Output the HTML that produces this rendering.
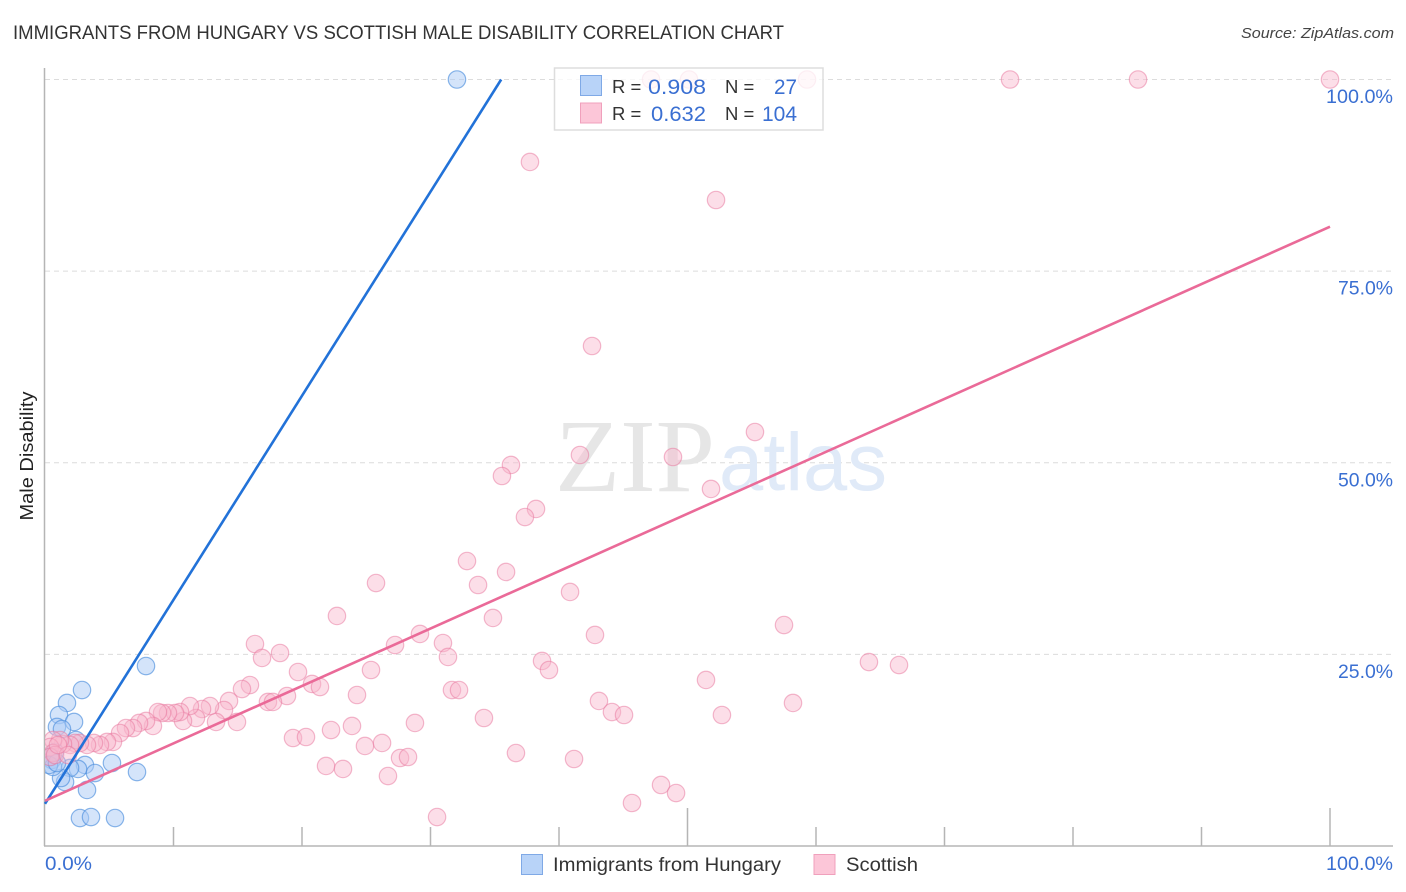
<!DOCTYPE html>
<html lang="en">
<head>
<meta charset="utf-8">
<title>Immigrants from Hungary vs Scottish Male Disability Correlation Chart</title>
<style>
html,body{margin:0;padding:0;background:#fff;width:1406px;height:892px;overflow:hidden}
svg{display:block;font-family:"Liberation Sans",sans-serif}
</style>
</head>
<body>
<svg id="chart" width="1406" height="892" viewBox="0 0 1406 892" xmlns="http://www.w3.org/2000/svg">
  <defs>
    <clipPath id="plot-clip"><rect x="45" y="60" width="1350" height="786"/></clipPath>
  </defs>
  <rect x="0" y="0" width="1406" height="892" fill="#ffffff"/>
  <text x="13" y="39" font-size="19" fill="#333333" textLength="771" lengthAdjust="spacingAndGlyphs">IMMIGRANTS FROM HUNGARY VS SCOTTISH MALE DISABILITY CORRELATION CHART</text>
  <text x="1394" y="38" font-size="15" font-style="italic" fill="#444444" text-anchor="end" textLength="153" lengthAdjust="spacingAndGlyphs">Source: ZipAtlas.com</text>

  <g id="grid"></g>

  <g>
    <text x="555" y="491" font-family="'Liberation Serif',serif" font-size="104" fill="#e6e6e6" textLength="160" lengthAdjust="spacingAndGlyphs">ZIP</text>
    <text x="719" y="490" font-size="82" fill="#e0eaf8" textLength="168" lengthAdjust="spacingAndGlyphs">atlas</text>
  </g>

  <g id="axes">
    <line x1="44.5" y1="68" x2="44.5" y2="846" stroke="#b5b5b5" stroke-width="1.5"/>
    <line x1="44" y1="846" x2="1393" y2="846" stroke="#b5b5b5" stroke-width="1.5"/>
  </g>
  <g id="xticks"></g>

  <g id="points-blue" clip-path="url(#plot-clip)"></g>
  <g id="points-pink" clip-path="url(#plot-clip)"></g>
  <g id="trends"></g>

  <g id="ylabels"></g>
  <g id="xlabels"></g>

  <text transform="translate(33,456) rotate(-90)" font-size="18" fill="#222222" text-anchor="middle" textLength="129" lengthAdjust="spacingAndGlyphs">Male Disability</text>

  <g>
    <rect x="554.5" y="68" width="268.5" height="62" fill="#ffffff" fill-opacity="0.78" stroke="#dddddd" stroke-width="1.5"/>
    <rect x="580.5" y="75.5" width="21" height="20" fill="#b8d3f8" stroke="#7fa9e6" stroke-width="1"/>
    <rect x="580.5" y="103" width="21" height="20" fill="#fcc6d8" stroke="#f0a0bc" stroke-width="1"/>
    <text x="612" y="93" font-size="18.5" fill="#333333">R =</text>
    <text x="706" y="94" font-size="21" fill="#3a6fd2" text-anchor="end" textLength="58" lengthAdjust="spacingAndGlyphs">0.908</text>
    <text x="725" y="93" font-size="18.5" fill="#333333">N =</text>
    <text x="797" y="94" font-size="21" fill="#3a6fd2" text-anchor="end" textLength="23" lengthAdjust="spacingAndGlyphs">27</text>
    <text x="612" y="120" font-size="18.5" fill="#333333">R =</text>
    <text x="706" y="121" font-size="21" fill="#3a6fd2" text-anchor="end" textLength="55" lengthAdjust="spacingAndGlyphs">0.632</text>
    <text x="725" y="120" font-size="18.5" fill="#333333">N =</text>
    <text x="797" y="121" font-size="21" fill="#3a6fd2" text-anchor="end" textLength="35" lengthAdjust="spacingAndGlyphs">104</text>
  </g>

  <g>
    <rect x="521.5" y="854.5" width="21" height="20" fill="#b8d3f8" stroke="#7fa9e6" stroke-width="1"/>
    <text x="553" y="871" font-size="19" fill="#333333" textLength="228" lengthAdjust="spacingAndGlyphs">Immigrants from Hungary</text>
    <rect x="814" y="854.5" width="21" height="20" fill="#fcc6d8" stroke="#f0a0bc" stroke-width="1"/>
    <text x="846" y="871" font-size="19" fill="#333333" textLength="72" lengthAdjust="spacingAndGlyphs">Scottish</text>
  </g>
</svg>
<script>
const hungaryX = [32.06,7.86,2.88,1.71,1.09,2.26,0.93,1.32,2.41,3.11,5.21,7.16,3.89,2.57,1.95,3.27,1.56,1.25,2.72,3.58,5.45,0.54,0.39,0.62,0.78,0.31,0.93];
const hungaryY = [100,23.48,20.35,18.66,17.09,16.18,15.53,15.26,13.83,10.57,10.83,9.65,9.52,10.05,10.18,7.31,8.35,8.87,3.65,3.78,3.65,11.22,11.61,10.31,12.26,10.57,10.83];
const scottishX = [47.16,50.12,59.3,75.1,85.06,100,37.74,52.22,42.57,55.25,41.63,48.87,36.26,35.56,51.83,38.21,37.35,32.84,35.88,33.7,25.76,40.86,22.72,34.86,57.51,29.18,42.8,27.24,30.97,16.34,18.29,31.36,16.89,38.68,64.12,66.46,39.22,19.69,25.37,51.44,20.78,21.4,15.95,15.33,31.67,32.22,24.28,18.83,43.11,58.21,17.35,17.74,14.32,44.12,45.06,52.68,34.16,28.79,23.89,22.26,13.93,13.31,14.94,12.84,12.22,11.75,11.28,10.74,10.51,10.12,9.57,9.11,8.79,8.4,7.86,7.32,6.85,6.3,5.84,5.29,4.82,4.28,3.81,3.27,2.72,2.33,1.95,1.4,1.17,0.62,0.39,0.62,0.39,0.78,1.79,19.3,20.31,21.87,23.19,24.9,26.23,26.69,27.63,28.25,30.51,36.65,41.17,45.68,47.94,49.11,1.01];
const scottishY = [100,100,100,100,100,100,89.24,84.28,65.23,54.01,51.01,50.75,49.71,48.27,46.58,43.97,42.92,37.18,35.75,34.05,34.31,33.14,30.01,29.75,28.83,27.66,27.53,26.22,26.48,26.35,25.18,24.66,24.53,24.14,24,23.61,22.96,22.7,22.96,21.66,21.14,20.74,21,20.48,20.35,20.35,19.7,19.57,18.92,18.66,18.79,18.79,18.92,17.48,17.09,17.09,16.7,16.05,15.66,15.13,17.74,16.18,16.18,18.26,17.87,16.7,18.26,16.31,17.48,17.35,17.35,17.35,17.48,15.66,16.31,16.05,15.39,15.39,14.74,13.57,13.57,13.18,13.44,13.18,13.44,13.44,13.18,13.31,13.83,13.83,12.92,12.13,11.61,11.87,11.87,14.09,14.22,10.44,10.05,13.05,13.44,9.13,11.48,11.61,3.78,12.13,11.35,5.61,7.96,6.91,13.18];
const hungaryTrendX = [0,35.5];
const hungaryTrendY = [5.5,100];
const scottishTrendX = [0,100];
const scottishTrendY = [5.9,80.8];
const yTickValues = [25,50,75,100];
const yTickLabels = ['25.0%','50.0%','75.0%','100.0%'];
const xTickValues = [10,20,30,40,50,60,70,80,90,100];
const xEdgeValues = [0,100];
const xEdgeLabels = ['0.0%','100.0%'];

const NS = 'http://www.w3.org/2000/svg';
function sx(v){ return 45 + v * 12.85; }
function sy(v){ return 846 - v * 7.665; }
function make(tag, parent, attrs){
  const el = document.createElementNS(NS, tag);
  for (const k in attrs) el.setAttribute(k, attrs[k]);
  parent.appendChild(el);
  return el;
}

const grid = document.getElementById('grid');
yTickValues.forEach(function(v){
  const el = make('line', grid, {x1:45, x2:1393, y1:sy(v), y2:sy(v), stroke:'#dcdcdc', 'stroke-width':1, 'stroke-dasharray':'5 4'});
  
  
});

const xticks = document.getElementById('xticks');
xTickValues.forEach(function(v){
  const top = v % 50 === 0 ? 808 : 827;
  const el = make('line', xticks, {x1:sx(v), x2:sx(v), y1:top, y2:846, stroke:'#b5b5b5', 'stroke-width':1.5});
  
  
});

const ylabels = document.getElementById('ylabels');
yTickValues.forEach(function(v, i){
  const el = make('text', ylabels, {x:1393, y:sy(v) + 23.5, 'font-size':19.5, fill:'#3a6fd2', 'text-anchor':'end', textLength: i === 3 ? 67 : 55, lengthAdjust:'spacingAndGlyphs'});
  el.textContent = yTickLabels[i];
  
  
});

const xlabels = document.getElementById('xlabels');
xEdgeValues.forEach(function(v, i){
  const el = make('text', xlabels, {x: i === 0 ? sx(v) : 1393, y:870, 'font-size':19.5, fill:'#3a6fd2', 'text-anchor': i === 0 ? 'start' : 'end', textLength: i === 0 ? 47 : 67, lengthAdjust:'spacingAndGlyphs'});
  el.textContent = xEdgeLabels[i];
  
  
});

const blueGroup = document.getElementById('points-blue');
hungaryX.forEach(function(x, i){
  const el = make('circle', blueGroup, {cx:sx(x), cy:sy(hungaryY[i]), r:8.7, fill:'#a9c9f5', 'fill-opacity':0.5, stroke:'#4d8fdd', 'stroke-opacity':0.65, 'stroke-width':1.2});
  
  
});

const pinkGroup = document.getElementById('points-pink');
scottishX.forEach(function(x, i){
  const el = make('circle', pinkGroup, {cx:sx(x), cy:sy(scottishY[i]), r:8.7, fill:'#f9b6cc', 'fill-opacity':0.45, stroke:'#e8799f', 'stroke-opacity':0.52, 'stroke-width':1.2});
  
  
});

const trends = document.getElementById('trends');
const blueTrend = make('line', trends, {x1:sx(hungaryTrendX[0]), y1:sy(hungaryTrendY[0]), x2:sx(hungaryTrendX[1]), y2:sy(hungaryTrendY[1]), stroke:'#2272d8', 'stroke-width':2.6});


const pinkTrend = make('line', trends, {x1:sx(scottishTrendX[0]), y1:sy(scottishTrendY[0]), x2:sx(scottishTrendX[1]), y2:sy(scottishTrendY[1]), stroke:'#ea6a98', 'stroke-width':2.6});


</script>
</body>
</html>
